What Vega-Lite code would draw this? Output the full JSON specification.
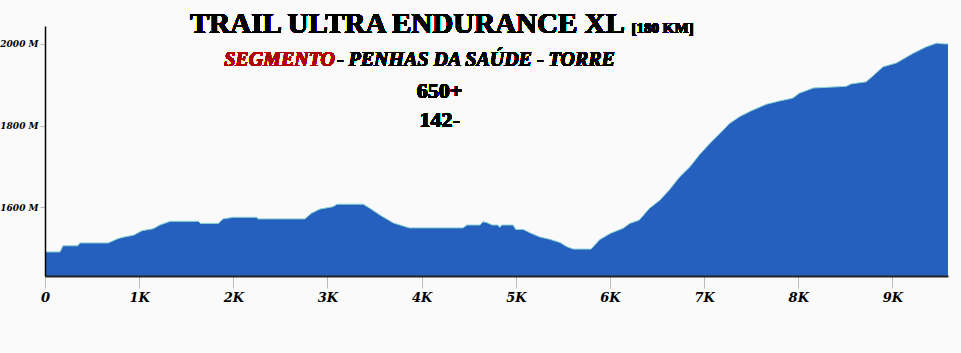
{
  "$schema": "https://vega.github.io/schema/vega-lite/v6.json",
  "autosize": "none",
  "width": 903,
  "height": 250,
  "padding": {"left": 45, "top": 26, "right": 13, "bottom": 77},
  "background": "#fafafa",
  "config": {"view": {"stroke": null}},
  "data": {"values": [
    {"km": 0, "elev": 1490}, {"km": 0.16, "elev": 1490}, {"km": 0.19, "elev": 1505}, {"km": 0.35, "elev": 1505},
    {"km": 0.37, "elev": 1512}, {"km": 0.67, "elev": 1512}, {"km": 0.78, "elev": 1523}, {"km": 0.85, "elev": 1527},
    {"km": 0.94, "elev": 1531}, {"km": 1.03, "elev": 1542}, {"km": 1.15, "elev": 1547}, {"km": 1.22, "elev": 1556},
    {"km": 1.33, "elev": 1565}, {"km": 1.63, "elev": 1565}, {"km": 1.65, "elev": 1560}, {"km": 1.84, "elev": 1560},
    {"km": 1.89, "elev": 1571}, {"km": 2.0, "elev": 1575}, {"km": 2.25, "elev": 1575}, {"km": 2.26, "elev": 1571},
    {"km": 2.76, "elev": 1571}, {"km": 2.83, "elev": 1585}, {"km": 2.92, "elev": 1595}, {"km": 3.06, "elev": 1601},
    {"km": 3.1, "elev": 1607}, {"km": 3.38, "elev": 1607}, {"km": 3.45, "elev": 1597}, {"km": 3.56, "elev": 1580},
    {"km": 3.7, "elev": 1561}, {"km": 3.87, "elev": 1549}, {"km": 4.44, "elev": 1549}, {"km": 4.48, "elev": 1556},
    {"km": 4.62, "elev": 1556}, {"km": 4.65, "elev": 1564}, {"km": 4.69, "elev": 1562}, {"km": 4.75, "elev": 1556},
    {"km": 4.81, "elev": 1556}, {"km": 4.83, "elev": 1550}, {"km": 4.85, "elev": 1556}, {"km": 4.97, "elev": 1556},
    {"km": 5.0, "elev": 1545}, {"km": 5.08, "elev": 1545}, {"km": 5.15, "elev": 1537}, {"km": 5.25, "elev": 1527},
    {"km": 5.36, "elev": 1521}, {"km": 5.47, "elev": 1513}, {"km": 5.54, "elev": 1503}, {"km": 5.61, "elev": 1497},
    {"km": 5.8, "elev": 1497}, {"km": 5.89, "elev": 1520}, {"km": 6.0, "elev": 1535}, {"km": 6.14, "elev": 1548},
    {"km": 6.21, "elev": 1560}, {"km": 6.31, "elev": 1568}, {"km": 6.42, "elev": 1597}, {"km": 6.53, "elev": 1617},
    {"km": 6.63, "elev": 1642}, {"km": 6.74, "elev": 1674}, {"km": 6.85, "elev": 1699}, {"km": 6.95, "elev": 1728},
    {"km": 7.06, "elev": 1756}, {"km": 7.17, "elev": 1781}, {"km": 7.27, "elev": 1805}, {"km": 7.38, "elev": 1822},
    {"km": 7.5, "elev": 1836}, {"km": 7.66, "elev": 1852}, {"km": 7.8, "elev": 1860}, {"km": 7.94, "elev": 1867},
    {"km": 8.01, "elev": 1879}, {"km": 8.16, "elev": 1892}, {"km": 8.51, "elev": 1896}, {"km": 8.56, "elev": 1902},
    {"km": 8.72, "elev": 1907}, {"km": 8.79, "elev": 1921}, {"km": 8.9, "elev": 1944}, {"km": 9.04, "elev": 1953},
    {"km": 9.22, "elev": 1977}, {"km": 9.36, "elev": 1993}, {"km": 9.47, "elev": 2002}, {"km": 9.55, "elev": 2000},
    {"km": 9.59, "elev": 2000}
  ]},
  "encoding": {
    "x": {"field": "km", "type": "quantitative",
      "scale": {"domain": [0, 9.59], "nice": false, "zero": false},
      "axis": {"title": null, "values": [0,1,2,3,4,5,6,7,8,9], "grid": false, "zindex": 1,
        "labelExpr": "datum.value == 0 ? '0' : datum.value + 'K'",
        "domainColor": "#222222", "domainWidth": 2, "tickColor": "#bbbbbb", "tickSize": 12, "tickWidth": 1,
        "labelFont": "DejaVu Serif", "labelFontWeight": "bold", "labelFontStyle": "italic", "labelFontSize": 13,
        "labelColor": "#000000", "labelPadding": 3, "labelFlush": false}},
    "y": {"field": "elev", "type": "quantitative",
      "scale": {"domain": [1431, 2044], "nice": false, "zero": false},
      "axis": {"title": null, "values": [1600, 1800, 2000], "grid": false, "zindex": 1,
        "labelExpr": "datum.value + ' M'",
        "domainColor": "#000000", "domainWidth": 1.5, "tickColor": "#bbbbbb", "tickSize": 5,
        "labelFont": "DejaVu Serif", "labelFontWeight": "bold", "labelFontStyle": "italic", "labelFontSize": 9,
        "labelColor": "#000000", "labelPadding": 2}}
  },
  "layer": [
    {"mark": {"type": "area", "color": "#2660be", "interpolate": "linear", "clip": true},
     "encoding": {"y2": {"datum": 1431}}},
    {"mark": {"type": "line", "color": "#86d2d2", "strokeWidth": 1, "interpolate": "linear", "clip": true}},
    {"mark": {"type": "text", "text": "TRAIL ULTRA ENDURANCE XL", "font": "Liberation Serif", "fontWeight": "bold", "fontSize": 29, "align": "left", "baseline": "alphabetic", "color": "#000000"},
     "encoding": {"x": {"datum": 1.54}, "y": {"datum": 2027}}},
    {"mark": {"type": "text", "text": "[180 KM]", "font": "Liberation Serif", "fontWeight": "bold", "fontSize": 15, "align": "left", "baseline": "alphabetic", "color": "#000000"},
     "encoding": {"x": {"datum": 6.23}, "y": {"datum": 2027}}},
    {"mark": {"type": "text", "text": "SEGMENTO", "font": "Liberation Serif", "fontWeight": "bold", "fontStyle": "italic", "fontSize": 20, "align": "right", "baseline": "alphabetic", "color": "#b00000"},
     "encoding": {"x": {"datum": 3.08}, "y": {"datum": 1946}}},
    {"mark": {"type": "text", "text": " - PENHAS DA SAÚDE - TORRE", "font": "Liberation Serif", "fontWeight": "bold", "fontStyle": "italic", "fontSize": 20, "align": "left", "baseline": "alphabetic", "color": "#000000"},
     "encoding": {"x": {"datum": 3.1}, "y": {"datum": 1946}}},
    {"mark": {"type": "text", "text": "650+", "font": "Liberation Serif", "fontWeight": "bold", "fontSize": 22, "align": "center", "baseline": "alphabetic", "color": "#000000"},
     "encoding": {"x": {"datum": 4.19}, "y": {"datum": 1867}}},
    {"mark": {"type": "text", "text": "142-", "font": "Liberation Serif", "fontWeight": "bold", "fontSize": 22, "align": "center", "baseline": "alphabetic", "color": "#000000"},
     "encoding": {"x": {"datum": 4.19}, "y": {"datum": 1796}}}
  ]
}
